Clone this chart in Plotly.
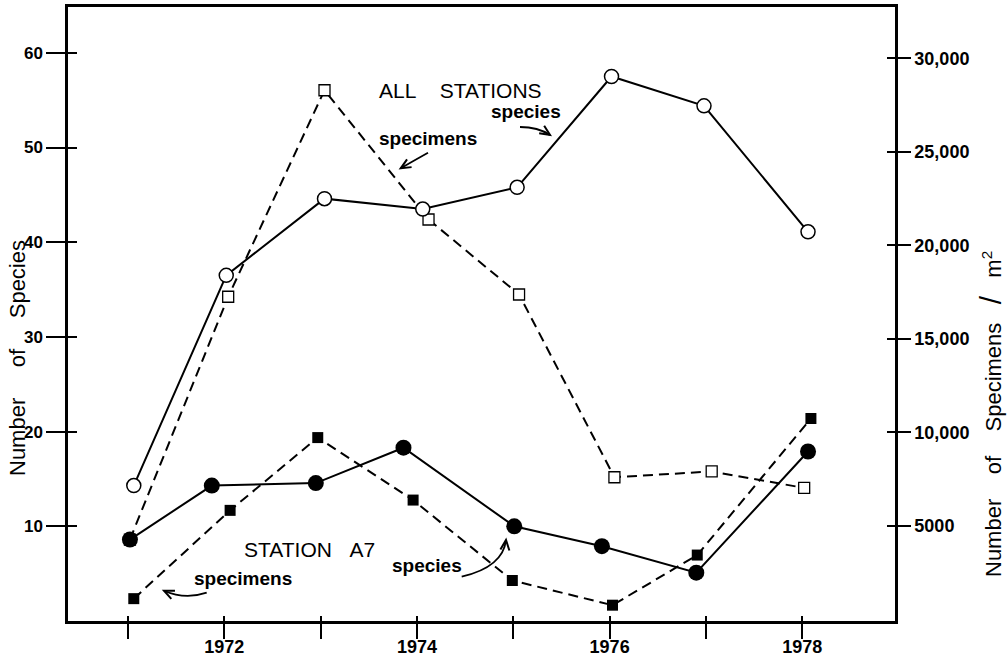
import plotly.graph_objects as go

# ---------------- data ----------------
years_ticks = [1971, 1972, 1973, 1974, 1975, 1976, 1977, 1978]
year_labels = ["", "1972", "", "1974", "", "1976", "", "1978"]

all_species_x = [1971.06, 1972.02, 1973.04, 1974.06, 1975.04, 1976.02, 1976.98, 1978.06]
all_species = [14.3, 36.5, 44.6, 43.5, 45.8, 57.5, 54.4, 41.1]

all_specimens_x = [1971.02, 1972.04, 1973.04, 1974.12, 1975.06, 1976.05, 1977.06, 1978.02]
all_specimens = [4270, 17250, 28290, 21380, 17370, 7600, 7910, 7030]

a7_species_x = [1971.02, 1971.87, 1972.95, 1973.86, 1975.01, 1975.92, 1976.90, 1978.06]
a7_species = [8.6, 14.3, 14.56, 18.3, 10.0, 7.9, 5.1, 17.9]

a7_specimens_x = [1971.06, 1972.06, 1972.97, 1973.96, 1974.99, 1976.03, 1976.91, 1978.09]
a7_specimens = [1110, 5830, 9720, 6380, 2080, 760, 3440, 10740]

species_ticks = [10, 20, 30, 40, 50, 60]
specimen_ticks = [5000, 10000, 15000, 20000, 25000, 30000]
specimen_labels = ["5000", "10,000", "15,000", "20,000", "25,000", "30,000"]

# ---------------- layout geometry ----------------
W, H = 1008, 657
L, R, T, B = 68, 113, 7, 36
PW, PH = W - L - R, H - T - B
X_RANGE = [1970.377, 1978.963]
SPECIES_RANGE = [0, 64.84]
SPECIMEN_RANGE = [-85, 32740]
FONT = "Liberation Sans"


def px(x):
    return (x - L) / PW


def py(y):
    return (H - B - y) / PH


fig = go.Figure()

dash = "10px,6px"
# specimens (right axis -> base yaxis 'y', drawn underneath)
fig.add_trace(go.Scatter(
    x=all_specimens_x, y=all_specimens, yaxis="y", mode="lines+markers",
    line=dict(color="black", width=2, dash=dash),
    marker=dict(symbol="square", size=11, color="white",
                line=dict(color="black", width=1.3)),
    showlegend=False, hoverinfo="skip"))
fig.add_trace(go.Scatter(
    x=a7_specimens_x, y=a7_specimens, yaxis="y", mode="lines+markers",
    line=dict(color="black", width=2, dash=dash),
    marker=dict(symbol="square", size=11, color="black"),
    showlegend=False, hoverinfo="skip"))
# species (left axis -> yaxis2 overlaying, drawn on top)
fig.add_trace(go.Scatter(
    x=all_species_x, y=all_species, yaxis="y2", mode="lines+markers",
    line=dict(color="black", width=2),
    marker=dict(symbol="circle", size=14, color="white",
                line=dict(color="black", width=1.5)),
    showlegend=False, hoverinfo="skip"))
fig.add_trace(go.Scatter(
    x=a7_species_x, y=a7_species, yaxis="y2", mode="lines+markers",
    line=dict(color="black", width=2),
    marker=dict(symbol="circle", size=16, color="black"),
    showlegend=False, hoverinfo="skip"))

# dummy traces so the inside-tick overlay axes exist
for xa, ya in [("x2", "y"), ("x", "y3"), ("x", "y4")]:
    fig.add_trace(go.Scatter(x=[None], y=[None], xaxis=xa, yaxis=ya,
                             showlegend=False, hoverinfo="skip"))

tickfont = dict(family=FONT, size=18, color="black", weight="bold")
common = dict(automargin=False, showgrid=False, zeroline=False,
              tickcolor="black", tickwidth=2, tickmode="array")

fig.update_layout(
    width=W, height=H,
    margin=dict(l=L, r=R, t=T, b=B, pad=0, autoexpand=False),
    paper_bgcolor="white", plot_bgcolor="white",
    xaxis=dict(range=X_RANGE, tickvals=years_ticks,
               ticktext=year_labels, ticks="outside", ticklen=15,
               ticklabelstandoff=-7,
               showline=True, linewidth=2.5,
               linecolor="black", mirror=True, tickfont=tickfont,
               anchor="y", **common),
    xaxis2=dict(range=X_RANGE, overlaying="x", side="bottom", anchor="y",
                tickvals=years_ticks, ticks="inside", ticklen=5,
                showticklabels=False, showline=False, **common),
    yaxis=dict(range=SPECIMEN_RANGE, side="right", anchor="x",
               tickvals=specimen_ticks, ticktext=specimen_labels,
               ticks="outside", ticklen=13, showline=True, linewidth=2.5,
               linecolor="black",
               tickfont=dict(family=FONT, size=18, color="black", weight="bold"),
               **common),
    yaxis2=dict(range=SPECIES_RANGE, side="left", overlaying="y", anchor="x",
                tickvals=species_ticks, ticks="outside", ticklen=19,
                showline=True, linewidth=2.5, linecolor="black",
                tickfont=dict(family=FONT, size=17, color="black", weight="bold"),
                **common),
    yaxis3=dict(range=SPECIES_RANGE, side="left", overlaying="y", anchor="x",
                tickvals=species_ticks, ticks="inside", ticklen=9,
                showticklabels=False, showline=False, **common),
    yaxis4=dict(range=SPECIMEN_RANGE, side="right", overlaying="y", anchor="x",
                tickvals=specimen_ticks, ticks="inside", ticklen=8,
                showticklabels=False, showline=False, **common),
)

nb = "\u00a0"
label_font = dict(family=FONT, size=19, color="black", weight="bold")
head_font = dict(family=FONT, size=21, color="black")
title_font = dict(family=FONT, size=22, color="black")

annotations = [
    dict(text="ALL" + nb * 4 + "STATIONS", x=px(460), y=py(91), font=head_font),
    dict(text="STATION" + nb * 3 + "A7", x=px(309), y=py(549), font=head_font),
    dict(text="species", x=px(526), y=py(112), font=label_font),
    dict(text="specimens", x=px(428), y=py(138), font=label_font),
    dict(text="species", x=px(427), y=py(565), font=label_font),
    dict(text="specimens", x=px(243), y=py(578), font=label_font),
    dict(text="Number" + nb * 5 + "of" + nb * 5 + "Species",
         x=px(17), y=py(358), textangle=-90, font=title_font),
    dict(text="Number" + nb * 4 + "of" + nb * 4 + "Specimens" + nb * 3
         + "<span style='font-size:30px'>/</span>" + nb * 3 + "m<sup>2</sup>",
         x=px(990), y=py(414), textangle=-90, font=title_font),
]
for a in annotations:
    a.update(xref="paper", yref="paper", showarrow=False,
             xanchor="center", yanchor="middle")

# arrows: lines/curves and arrowheads drawn as shapes (pixel -> paper)
arrows = [
    ((520, 127), (538, 127), (550, 135)),
    ((461.7, 576.7), (503, 567), (506, 540)),
    ((206.7, 592.7), (185, 600), (164, 590.7)),
    ((428, 152.7), (414, 160.5), (400.7, 168.3)),
]
shapes = []
for (x0, y0), (cx, cy), (x1, y1) in arrows:
    shapes.append(dict(
        type="path", xref="paper", yref="paper",
        path=f"M {px(x0)},{py(y0)} Q {px(cx)},{py(cy)} {px(x1)},{py(y1)}",
        line=dict(color="black", width=1.8)))
    dx, dy = x1 - cx, y1 - cy
    n = (dx * dx + dy * dy) ** 0.5
    ux, uy = dx / n, dy / n
    bx, by = x1 - ux * 10, y1 - uy * 10
    qx, qy = -uy * 4.5, ux * 4.5
    shapes.append(dict(
        type="path", xref="paper", yref="paper",
        path=(f"M {px(bx + qx)},{py(by + qy)} L {px(x1)},{py(y1)} "
              f"L {px(bx - qx)},{py(by - qy)}"),
        line=dict(color="black", width=2)))

fig.update_layout(annotations=annotations, shapes=shapes)

fig.write_html("out.html",
               config={"displayModeBar": False},
               post_script="document.body.style.margin='0';"
                           "document.body.style.padding='0';")
